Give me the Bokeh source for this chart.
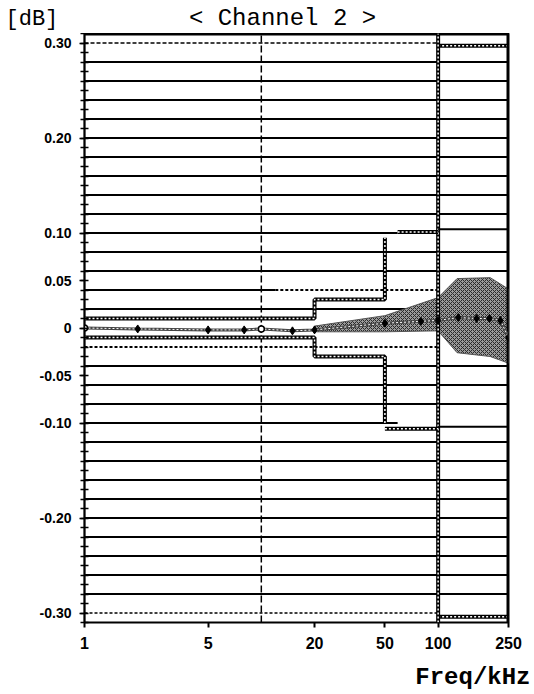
from bokeh.plotting import figure
from bokeh.layouts import column
from bokeh.models import Range1d, FixedTicker, PrintfTickFormatter
from bokeh.core.properties import value
from bokeh.embed import file_html
from bokeh.resources import INLINE

# ---------------- data ----------------
trace_freq = [1, 2, 5, 8, 10, 15, 20, 50, 80, 100, 130, 165, 195, 225, 250]
trace_db = [0.000, -0.001, -0.002, -0.002, -0.001, -0.003, -0.002, 0.005, 0.007,
            0.008, 0.011, 0.010, 0.010, 0.008, -0.010]
open_freq = [1, 10]
open_db = [0.000, -0.001]

band_freq = [20, 50, 100, 128, 197, 250]
band_hi = [0.002, 0.013, 0.032, 0.052, 0.053, 0.041]
band_lo = [-0.004, -0.004, -0.003, -0.026, -0.030, -0.037]

inner_freq = [1, 20, 20, 50, 50]
inner_hi = [0.01, 0.01, 0.03, 0.03, 0.095]
inner_lo = [-0.01, -0.01, -0.03, -0.03, -0.10]

outer_hi_hatch_freq = [59, 100]
outer_hi_hatch_db = [0.101, 0.101]
outer_hi_freq = [100, 250]
outer_hi_db = [0.104, 0.104]
outer_lo_hatch_freq = [50, 100]
outer_lo_hatch_db = [-0.106, -0.106]
outer_lo_freq = [100, 250]
outer_lo_db = [-0.104, -0.104]

top_freq = [1, 100]
top_db = [0.30, 0.30]
top2_freq = [100, 250]
top2_db = [0.297, 0.297]
bot_freq = [1, 100]
bot_db = [-0.30, -0.30]
bot2_freq = [100, 250]
bot2_db = [-0.304, -0.304]

grid_full = [0.28, 0.26, 0.24, 0.22, 0.20, 0.18, 0.16, 0.14, 0.12, 0.08, 0.06, 0.02,
             -0.04, -0.06, -0.08, -0.12, -0.14, -0.16, -0.18, -0.20, -0.22, -0.24,
             -0.26, -0.28]
grid_short = [0.10, -0.10]
grid_short_end = 59
dotted_04_freq = [12, 100]
solid_04_freq = [1, 12]
dotted_m02_freq = [1, 100]

x_ticks = [1, 5, 20, 50, 100, 250]
y_ticks = [-0.30, -0.20, -0.10, -0.05, 0, 0.05, 0.10, 0.20, 0.30]
y_minor = [i / 100 for i in range(-31, 32)]
vline_dashed = 10
vline_hatched = 100
x_lo, x_hi = 1, 250
y_lo, y_hi = -0.31, 0.31

title_text = "< Channel 2 >"
unit_text = "[dB]"
xlabel_text = "Freq/kHz"

W = 534
HEAD_H = 33
FOOT_H = 36
MAIN_H = 694 - HEAD_H - FOOT_H


def no_align(fig):
    if "frame_align" in fig.properties():
        fig.frame_align = False


# ---------------- header ----------------
head = figure(width=W, height=HEAD_H, x_range=Range1d(0, W), y_range=Range1d(0, HEAD_H),
              x_axis_type=None, y_axis_type=None, output_backend="svg",
              toolbar_location=None, min_border=0)
head.min_border_left = head.min_border_right = 0
head.min_border_top = head.min_border_bottom = 0
head.outline_line_color = None
no_align(head)
head.text(x=[5], y=[14], text=[unit_text], text_font=value("Liberation Mono"),
          text_font_size="22px", text_align="left", text_baseline="alphabetic",
          text_color="black")
head.text(x=[282], y=[15], text=[title_text], text_font=value("Liberation Mono"),
          text_font_size="24px", text_align="center", text_baseline="alphabetic",
          text_color="black")

# ---------------- main plot ----------------
p = figure(width=W, height=MAIN_H, x_axis_type="log",
           x_range=Range1d(x_lo, x_hi), y_range=Range1d(y_lo, y_hi),
           output_backend="svg", toolbar_location=None,
           min_border_left=84, min_border_right=26,
           min_border_top=0, min_border_bottom=36)
no_align(p)
p.grid.visible = False
p.outline_line_color = "black"
p.outline_line_width = 2


def hatched(xs, ys, w=4):
    p.line(xs, ys, line_color="black", line_width=w)
    p.line(xs, ys, line_color="white", line_width=max(w - 2.5, 1), line_dash="2 2")


# top frame edge
p.line([x_lo, x_hi], [y_hi, y_hi], line_color="black", line_width=4)

# grid lines
for g in grid_full:
    p.line([x_lo, x_hi], [g, g], line_color="black", line_width=2)
for g in grid_short:
    p.line([x_lo, grid_short_end], [g, g], line_color="black", line_width=2)
p.line(solid_04_freq, [0.04, 0.04], line_color="black", line_width=2)
p.line(dotted_04_freq, [0.04, 0.04], line_color="black", line_width=2, line_dash="3 2")
p.line(dotted_m02_freq, [-0.02, -0.02], line_color="black", line_width=2, line_dash="3 2")

# +-0.30 limits
p.line(top_freq, top_db, line_color="black", line_width=1.5, line_dash="4 2")
hatched(top2_freq, top2_db)
p.line(bot_freq, bot_db, line_color="black", line_width=1.5, line_dash="3 2")
hatched(bot2_freq, bot2_db)

# envelope band
p.patch(band_freq + band_freq[::-1], band_hi + band_lo[::-1],
        fill_color="#9a9a9a", line_color="#555555", line_width=1,
        hatch_pattern="x", hatch_color="#2a2a2a", hatch_scale=4, hatch_weight=1)

# vertical lines
p.line([vline_dashed, vline_dashed], [y_lo, y_hi], line_color="black",
       line_width=1.5, line_dash="7 3")
hatched([vline_hatched, vline_hatched], [y_lo, y_hi], w=4)
p.line([x_hi, x_hi], [y_lo, y_hi], line_color="black", line_width=4)

# masks
hatched(inner_freq, inner_hi)
hatched(inner_freq, inner_lo)
hatched(outer_hi_hatch_freq, outer_hi_hatch_db)
p.line(outer_hi_freq, outer_hi_db, line_color="black", line_width=2)
hatched(outer_lo_hatch_freq, outer_lo_hatch_db)
p.line(outer_lo_freq, outer_lo_db, line_color="black", line_width=2)

# measured trace
p.line(trace_freq, trace_db, line_color="#444444", line_width=3)
p.line(trace_freq, trace_db, line_color="white", line_width=1, line_dash="2 2")
p.scatter(trace_freq[1:], trace_db[1:], marker="diamond", size=8,
          fill_color="black", line_color="black")
p.scatter(open_freq, open_db, marker="circle", size=6,
          fill_color="white", line_color="black", line_width=1.5)

# axes
xa = p.xaxis[0]
xa.ticker = FixedTicker(ticks=x_ticks)
xa.formatter = PrintfTickFormatter(format="%d")
xa.axis_line_color = None
xa.major_tick_line_color = "black"
xa.major_tick_line_width = 2
xa.major_tick_in = 0
xa.major_tick_out = 5
xa.minor_tick_line_color = None
xa.major_label_standoff = 9
xa.major_label_text_font = "Liberation Sans"
xa.major_label_text_font_style = "bold"
xa.major_label_text_font_size = "16px"
xa.major_label_text_color = "black"

ya = p.yaxis[0]
ya.ticker = FixedTicker(ticks=y_ticks, minor_ticks=y_minor)
ya.formatter = PrintfTickFormatter(format="%.2f")
ya.major_label_overrides = {0: "0"}
ya.axis_line_color = "black"
ya.axis_line_width = 1.5
ya.major_tick_line_color = "black"
ya.major_tick_line_width = 1.5
ya.major_tick_in = 0
ya.major_tick_out = 5
ya.minor_tick_line_color = "black"
ya.minor_tick_line_width = 1.5
ya.minor_tick_in = 4
ya.minor_tick_out = 4
ya.major_label_standoff = 8
ya.major_label_text_font = "Liberation Sans"
ya.major_label_text_font_style = "bold"
ya.major_label_text_font_size = "14px"
ya.major_label_text_color = "black"

# ---------------- footer ----------------
foot = figure(width=W, height=FOOT_H, x_range=Range1d(0, W), y_range=Range1d(0, FOOT_H),
              x_axis_type=None, y_axis_type=None, output_backend="svg",
              toolbar_location=None, min_border=0)
foot.min_border_left = foot.min_border_right = 0
foot.min_border_top = foot.min_border_bottom = 0
foot.outline_line_color = None
no_align(foot)
foot.text(x=[530], y=[17], text=[xlabel_text], text_font=value("Liberation Mono"),
          text_font_size="24px", text_font_style="bold", text_align="right",
          text_baseline="alphabetic", text_color="black")

layout = column(head, p, foot, spacing=0)
open("out.html", "w").write(file_html(layout, INLINE))
